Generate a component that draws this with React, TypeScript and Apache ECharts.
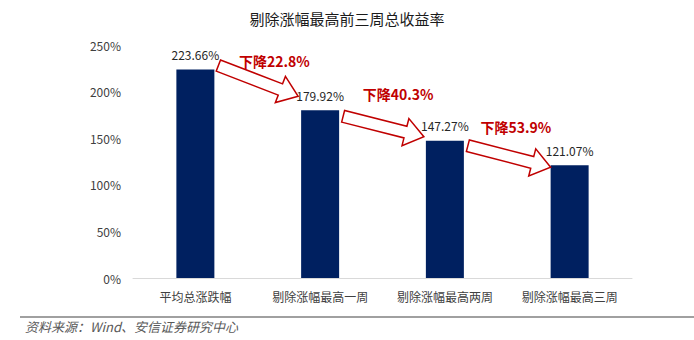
import React, { useEffect, useRef } from "react";
import * as echarts from "echarts";

const categories = ["平均总涨跌幅", "剔除涨幅最高一周", "剔除涨幅最高两周", "剔除涨幅最高三周"];
const values = [223.66, 179.92, 147.27, 121.07];
const dropLabels = ["下降22.8%", "下降40.3%", "下降53.9%"];
const yTicks = [0, 50, 100, 150, 200, 250];

// annotation styling offsets (pixels, relative to bar edges)
const arrowTailOffset = [[4, -4], [4, 6], [4, 5]];
const arrowTipOffset = [[-3, -14], [-2, -4], [0, 2]];
const labelOffset = [[56, -5], [55, -22], [48, -19]];

export default function App() {
  const ref = useRef<HTMLDivElement>(null);
  useEffect(() => {
    document.body.style.margin = "0";
    const chart = echarts.init(ref.current!, null, { renderer: "svg" });
    const font = "'Noto Sans CJK SC', 'Noto Sans', sans-serif";
    chart.setOption({
      animation: false,
      title: {
        text: "剔除涨幅最高前三周总收益率",
        left: "center",
        top: 6,
        textStyle: { fontSize: 15, fontWeight: "normal", color: "#1a1a1a", fontFamily: font },
      },
      grid: { left: 133, right: 62, top: 45, bottom: 62 },
      xAxis: {
        type: "category",
        data: categories,
        axisLine: { lineStyle: { color: "#d9d9d9" } },
        axisTick: { show: false },
        axisLabel: { color: "#404040", fontSize: 12, margin: 12, interval: 0, fontFamily: font },
      },
      yAxis: {
        type: "value",
        min: yTicks[0],
        max: yTicks[yTicks.length - 1],
        interval: 50,
        splitLine: { show: false },
        axisLine: { show: false },
        axisTick: { show: false },
        axisLabel: { color: "#404040", fontSize: 12, margin: 12, formatter: "{value}%", fontFamily: font },
      },
      series: [
        {
          type: "bar",
          data: values,
          barWidth: 38,
          itemStyle: { color: "#002060" },
          label: {
            show: true,
            position: "top",
            distance: 9,
            color: "#262626",
            fontSize: 12,
            fontFamily: font,
            formatter: (p: any) => p.value.toFixed(2) + "%",
          },
        },
      ],
    });

    const half = 19;
    const gfx: any[] = [];
    for (let i = 0; i < values.length - 1; i++) {
      const [cx0, y0] = chart.convertToPixel({ seriesIndex: 0 }, [i, values[i]]) as number[];
      const [cx1, y1] = chart.convertToPixel({ seriesIndex: 0 }, [i + 1, values[i + 1]]) as number[];
      const tail = [cx0 + half + arrowTailOffset[i][0], y0 + arrowTailOffset[i][1]];
      const tip = [cx1 - half + arrowTipOffset[i][0], y1 + arrowTipOffset[i][1]];
      const dx = tip[0] - tail[0];
      const dy = tip[1] - tail[1];
      const len = Math.hypot(dx, dy);
      const ux = dx / len, uy = dy / len;
      const nx = -uy, ny = ux;
      const bw = 6, hw = 14, hl = 19;
      const neck = [tip[0] - ux * hl, tip[1] - uy * hl];
      const pts = [
        [tail[0] + nx * bw, tail[1] + ny * bw],
        [neck[0] + nx * bw, neck[1] + ny * bw],
        [neck[0] + nx * hw, neck[1] + ny * hw],
        tip,
        [neck[0] - nx * hw, neck[1] - ny * hw],
        [neck[0] - nx * bw, neck[1] - ny * bw],
        [tail[0] - nx * bw, tail[1] - ny * bw],
      ];
      gfx.push({
        type: "polygon",
        shape: { points: pts },
        style: { fill: "#ffffff", stroke: "#c00000", lineWidth: 1.5, lineJoin: "miter" },
        z: 100,
      });
      gfx.push({
        type: "text",
        x: tail[0] + labelOffset[i][0],
        y: tail[1] + labelOffset[i][1],
        style: {
          text: dropLabels[i],
          fill: "#c00000",
          font: `bold 14px ${font}`,
          textAlign: "center",
          textVerticalAlign: "middle",
        },
        z: 101,
      });
    }
    gfx.push({
      type: "line",
      shape: { x1: 20, y1: 317, x2: 694, y2: 317 },
      style: { stroke: "#808080", lineWidth: 1.5 },
    });
    gfx.push({
      type: "text",
      x: 25,
      y: 326,
      style: {
        text: "资料来源：Wind、安信证券研究中心",
        fill: "#595959",
        font: `italic 13px ${font}`,
        textVerticalAlign: "middle",
      },
    });
    chart.setOption({ graphic: gfx });
    return () => chart.dispose();
  }, []);
  return <div ref={ref} style={{ width: 694, height: 340 }} />;
}
